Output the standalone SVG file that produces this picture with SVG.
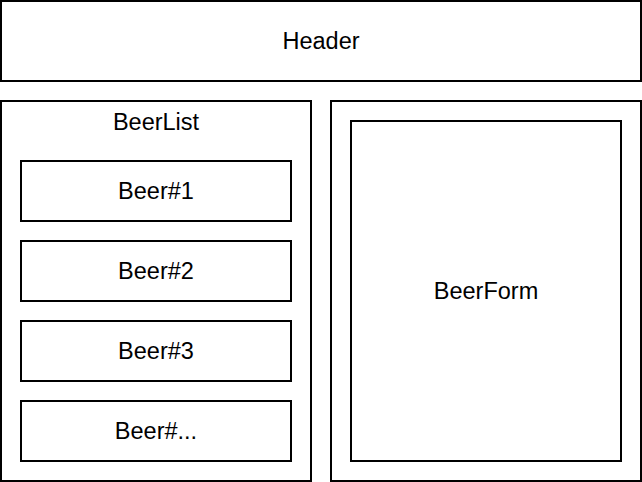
<svg xmlns="http://www.w3.org/2000/svg" width="642" height="482" viewBox="0 0 642 482">
<style>
rect{fill:#fff;stroke:#000;stroke-width:2}
text{font-family:"Liberation Sans",Arial,sans-serif;font-size:23.5px;fill:#000;text-anchor:middle}
</style>
<rect x="0" y="0" width="642" height="482" style="stroke:none"/>
<g id="header"><rect x="1" y="1" width="640" height="80"/><text x="321" y="49">Header</text></g>
<g id="beerlist"><rect x="1" y="101" width="310" height="380"/><text x="156" y="130">BeerList</text></g>
<g id="beer1"><rect x="21" y="161" width="270" height="60"/><text x="156" y="199">Beer#1</text></g>
<g id="beer2"><rect x="21" y="241" width="270" height="60"/><text x="156" y="279">Beer#2</text></g>
<g id="beer3"><rect x="21" y="321" width="270" height="60"/><text x="156" y="359">Beer#3</text></g>
<g id="beer4"><rect x="21" y="401" width="270" height="60"/><text x="156" y="439">Beer#...</text></g>
<g id="formpanel"><rect x="331" y="101" width="310" height="380"/></g>
<g id="beerform"><rect x="351" y="121" width="270" height="340"/><text x="486" y="299">BeerForm</text></g>
<g id="connectors"/>
</svg>
